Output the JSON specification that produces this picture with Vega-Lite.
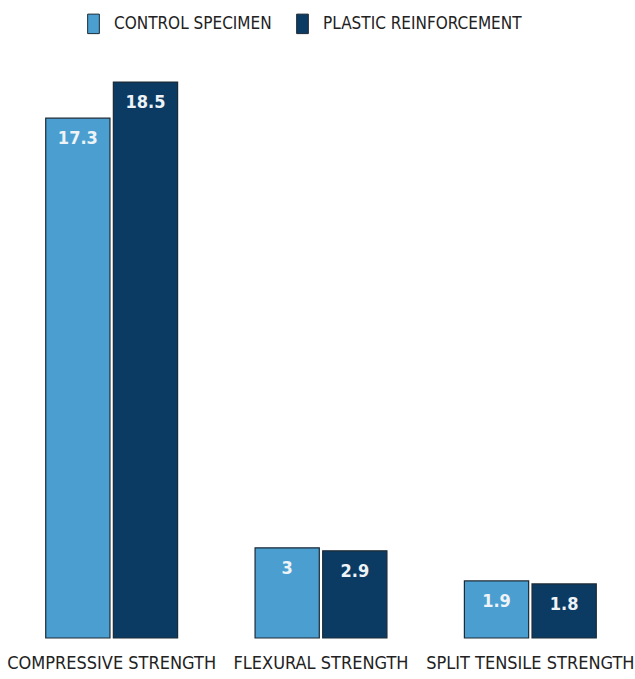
{
  "$schema": "https://vega.github.io/schema/vega-lite/v6.json",
  "autosize": {"type": "none"},
  "padding": {"left": 7, "top": 37, "right": 0, "bottom": 41},
  "width": 628,
  "height": 601,
  "background": "white",
  "data": {"values": [
    {"test": "COMPRESSIVE STRENGTH", "series": "CONTROL SPECIMEN", "value": 17.3},
    {"test": "COMPRESSIVE STRENGTH", "series": "PLASTIC REINFORCEMENT", "value": 18.5},
    {"test": "FLEXURAL STRENGTH", "series": "CONTROL SPECIMEN", "value": 3},
    {"test": "FLEXURAL STRENGTH", "series": "PLASTIC REINFORCEMENT", "value": 2.9},
    {"test": "SPLIT TENSILE STRENGTH", "series": "CONTROL SPECIMEN", "value": 1.9},
    {"test": "SPLIT TENSILE STRENGTH", "series": "PLASTIC REINFORCEMENT", "value": 1.8}
  ]},
  "encoding": {
    "x": {"field": "test", "type": "nominal", "sort": null,
      "scale": {"paddingInner": 0.37, "paddingOuter": 0.185},
      "axis": {"title": null, "labelAngle": 0, "ticks": false, "domain": false,
        "labelFont": "DejaVu Sans Condensed", "labelFontSize": 18, "labelColor": "#222222",
        "labelPadding": 16, "labelLimit": 0}},
    "xOffset": {"field": "series", "type": "nominal", "scale": {"paddingInner": 0.05}},
    "y": {"field": "value", "type": "quantitative", "scale": {"domain": [0, 20]}, "axis": null}
  },
  "layer": [
    {
      "mark": {"type": "bar", "stroke": "#1c2a36", "strokeWidth": 1.2},
      "encoding": {
        "color": {"field": "series", "type": "nominal",
          "scale": {"domain": ["CONTROL SPECIMEN", "PLASTIC REINFORCEMENT"], "range": ["#4a9fd0", "#0b3b63"]},
          "legend": {"title": null, "orient": "none", "legendX": 76, "legendY": -24, "direction": "horizontal",
            "symbolType": "M-0.6,-1H0.6V1H-0.6Z", "symbolSize": 380, "symbolStrokeColor": "#1c2a36", "symbolStrokeWidth": 1,
            "labelFont": "DejaVu Sans Condensed", "labelFontSize": 17, "labelColor": "#222222", "labelLimit": 0,
            "columnPadding": 20, "labelOffset": 10}}
      }
    },
    {
      "mark": {"type": "text", "baseline": "top", "dy": 12, "font": "DejaVu Sans Condensed", "fontSize": 18, "fontWeight": "bold"},
      "encoding": {
        "text": {"field": "value", "type": "quantitative"},
        "color": {"field": "series", "type": "nominal",
          "scale": {"domain": ["CONTROL SPECIMEN", "PLASTIC REINFORCEMENT"], "range": ["#4a9fd0", "#0b3b63"]}, "legend": null},
        "fill": {"value": "#eef3f7"}
      }
    }
  ],
  "resolve": {"scale": {"color": "independent"}},
  "config": {"view": {"stroke": null}}
}
